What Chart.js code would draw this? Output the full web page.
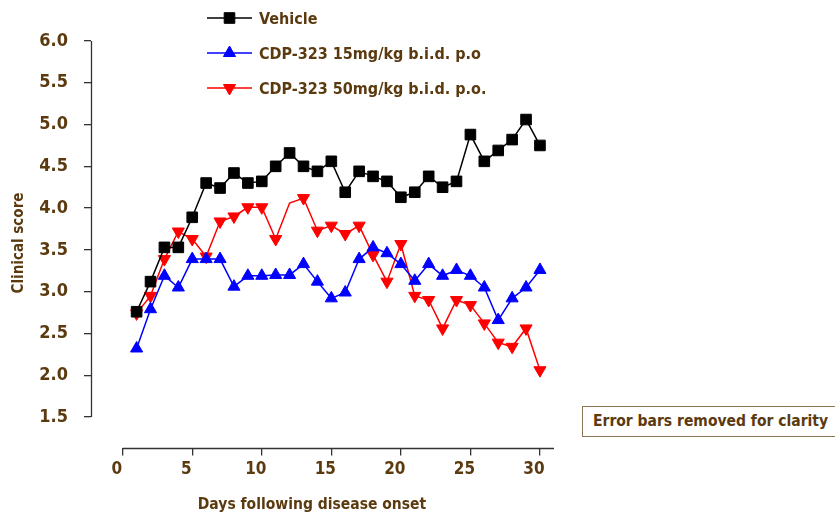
<!DOCTYPE html>
<html><head><meta charset="utf-8">
<script src="https://cdn.jsdelivr.net/npm/chart.js@4/dist/chart.umd.min.js"></script>
<style>
html,body{margin:0;padding:0;background:#fff;}
#wrap{position:relative;width:835px;height:515px;overflow:hidden;}
#note{position:absolute;left:582px;top:406px;width:280px;height:31px;border:1px solid #8c7455;box-sizing:border-box;
 font:bold 15.5px 'DejaVu Sans Condensed','DejaVu Sans',sans-serif;color:#5b3a10;line-height:29px;padding-left:10px;white-space:nowrap;background:#fff;}
</style></head><body>
<div id="wrap"><canvas id="c" width="835" height="515"></canvas><div id="note">Error bars removed for clarity</div></div>
<script>
const days = [1,2,3,4,5,6,7,8,9,10,11,12,13,14,15,16,17,18,19,20,21,22,23,24,25,26,27,28,29,30];
const vehicle = [2.76,3.12,3.53,3.53,3.89,4.30,4.24,4.42,4.30,4.32,4.50,4.66,4.50,4.44,4.56,4.19,4.44,4.38,4.32,4.13,4.19,4.38,4.25,4.32,4.88,4.56,4.69,4.82,5.06,4.75];
const cdp15 = [2.32,2.79,3.19,3.05,3.39,3.39,3.39,3.06,3.19,3.19,3.20,3.20,3.33,3.12,2.92,2.99,3.39,3.53,3.46,3.33,3.13,3.33,3.19,3.26,3.19,3.05,2.66,2.92,3.05,3.26];
const cdp50 = [2.74,2.95,3.39,3.72,3.63,3.42,3.84,3.90,4.01,4.01,3.63,4.06,4.12,3.73,3.79,3.69,3.79,3.44,3.12,3.57,2.95,2.90,2.56,2.90,2.84,2.62,2.39,2.34,2.56,2.06];
const seriesLabels = ['Vehicle','CDP-323 15mg/kg b.i.d. p.o','CDP-323 50mg/kg b.i.d. p.o.'];
const xTicks = [0,5,10,15,20,25,30];
const yTicks = [1.5,2.0,2.5,3.0,3.5,4.0,4.5,5.0,5.5,6.0];
const xTitle = 'Days following disease onset';
const yTitle = 'Clinical score';

const BROWN = '#5b3a10';
const FONT = "'DejaVu Sans Condensed','DejaVu Sans',sans-serif";

function pts(arr){ return days.map((d,i)=>({x:d,y:arr[i]})); }

const legendYs = [18, 53, 88];
const legendRadius = [7.5, 7, 7];

const customPlugin = {
  id:'custom',
  beforeDatasetsDraw(chart){
    const ctx = chart.ctx, xs = chart.scales.x, ys = chart.scales.y, ca = chart.chartArea;
    ctx.save();
    ctx.strokeStyle = '#333'; ctx.lineWidth = 1.3;
    ctx.beginPath();
    const lx = Math.round(ca.left)+0.5;
    ctx.moveTo(lx, ys.getPixelForValue(yTicks[yTicks.length-1]));
    ctx.lineTo(lx, ys.getPixelForValue(yTicks[0]));
    const by = Math.round(ca.bottom)+0.5;
    ctx.moveTo(xs.getPixelForValue(xTicks[0]), by);
    ctx.lineTo(ca.right, by);
    ctx.stroke();
    ctx.restore();
  },
  afterDraw(chart){
    const ctx = chart.ctx;
    ctx.save();
    ctx.fillStyle = BROWN;
    ctx.font = 'bold 15.5px ' + FONT;
    ctx.textAlign = 'center'; ctx.textBaseline = 'middle';
    ctx.fillText(xTitle, 312, 505);
    ctx.font = 'bold 15px ' + FONT;
    ctx.translate(19.5, 243); ctx.rotate(-Math.PI/2);
    ctx.fillText(yTitle, 0, 0);
    ctx.restore();
    chart.data.datasets.forEach((ds,i)=>{
      const y = legendYs[i];
      ctx.save();
      ctx.strokeStyle = ds.borderColor; ctx.lineWidth = 1.5;
      ctx.beginPath(); ctx.moveTo(207,y); ctx.lineTo(252,y); ctx.stroke();
      ctx.fillStyle = ds.pointBackgroundColor; ctx.strokeStyle = ds.pointBorderColor;
      ctx.lineWidth = 1;
      Chart.helpers.drawPoint(ctx, {pointStyle: ds.pointStyle, radius: legendRadius[i], rotation: ds.pointRotation || 0, borderWidth:1}, 229.5, y);
      ctx.fillStyle = BROWN;
      ctx.font = 'bold 16px ' + FONT;
      ctx.textAlign = 'left'; ctx.textBaseline = 'middle';
      ctx.fillText(ds.label, 259, y+2);
      ctx.restore();
    });
  }
};

new Chart(document.getElementById('c'), {
  type:'line',
  data:{ datasets:[
    {label:seriesLabels[0], data:pts(vehicle), borderColor:'#000', backgroundColor:'#000', pointBackgroundColor:'#000', pointBorderColor:'#000',
     pointStyle:'rect', pointRadius:legendRadius[0], borderWidth:1.5, pointBorderWidth:1},
    {label:seriesLabels[1], data:pts(cdp15), borderColor:'#0000ff', backgroundColor:'#0000ff', pointBackgroundColor:'#0000ff', pointBorderColor:'#0000ff',
     pointStyle:'triangle', pointRadius:legendRadius[1], borderWidth:1.5, pointBorderWidth:1},
    {label:seriesLabels[2], data:pts(cdp50), borderColor:'#ff0000', backgroundColor:'#ff0000', pointBackgroundColor:'#ff0000', pointBorderColor:'#ff0000',
     pointStyle:'triangle', pointRotation:180, pointRadius:(c)=> c.dataIndex === 11 ? 0 : legendRadius[2], borderWidth:1.5, pointBorderWidth:1}
  ]},
  options:{
    responsive:false, animation:false, devicePixelRatio:1,
    layout:{padding:{top:10, right:281, left:0, bottom:0}},
    plugins:{legend:{display:false}, tooltip:{enabled:false}},
    elements:{line:{tension:0}},
    scales:{
      x:{type:'linear', min:-2.279, max:31.01,
        afterBuildTicks(s){ s.ticks = xTicks.map(v=>({value:v})); },
        afterFit(s){ s.height = 67.5; s.paddingLeft = 0; s.paddingRight = 0; },
        grid:{display:true, drawOnChartArea:false, drawTicks:true, tickLength:8, color:'#333', lineWidth:1.3},
        border:{display:false},
        ticks:{font:{family:FONT, size:17, weight:'bold'}, color:BROWN, padding:4, labelOffset:-6, maxRotation:0, autoSkip:false}
      },
      y:{type:'linear', min:1.135, max:6.371,
        afterBuildTicks(s){ s.ticks = yTicks.map(v=>({value:v})); },
        afterFit(s){ s.width = 91; s.paddingTop = 0; s.paddingBottom = 0; },
        grid:{display:true, drawOnChartArea:false, drawTicks:true, tickLength:7, color:'#333', lineWidth:1.3},
        border:{display:false},
        ticks:{font:{family:FONT, size:18, weight:'bold'}, color:BROWN, padding:16, autoSkip:false,
          callback:(v)=>Number(v).toFixed(1)}
      }
    }
  },
  plugins:[customPlugin]
});
</script>
</body></html>
